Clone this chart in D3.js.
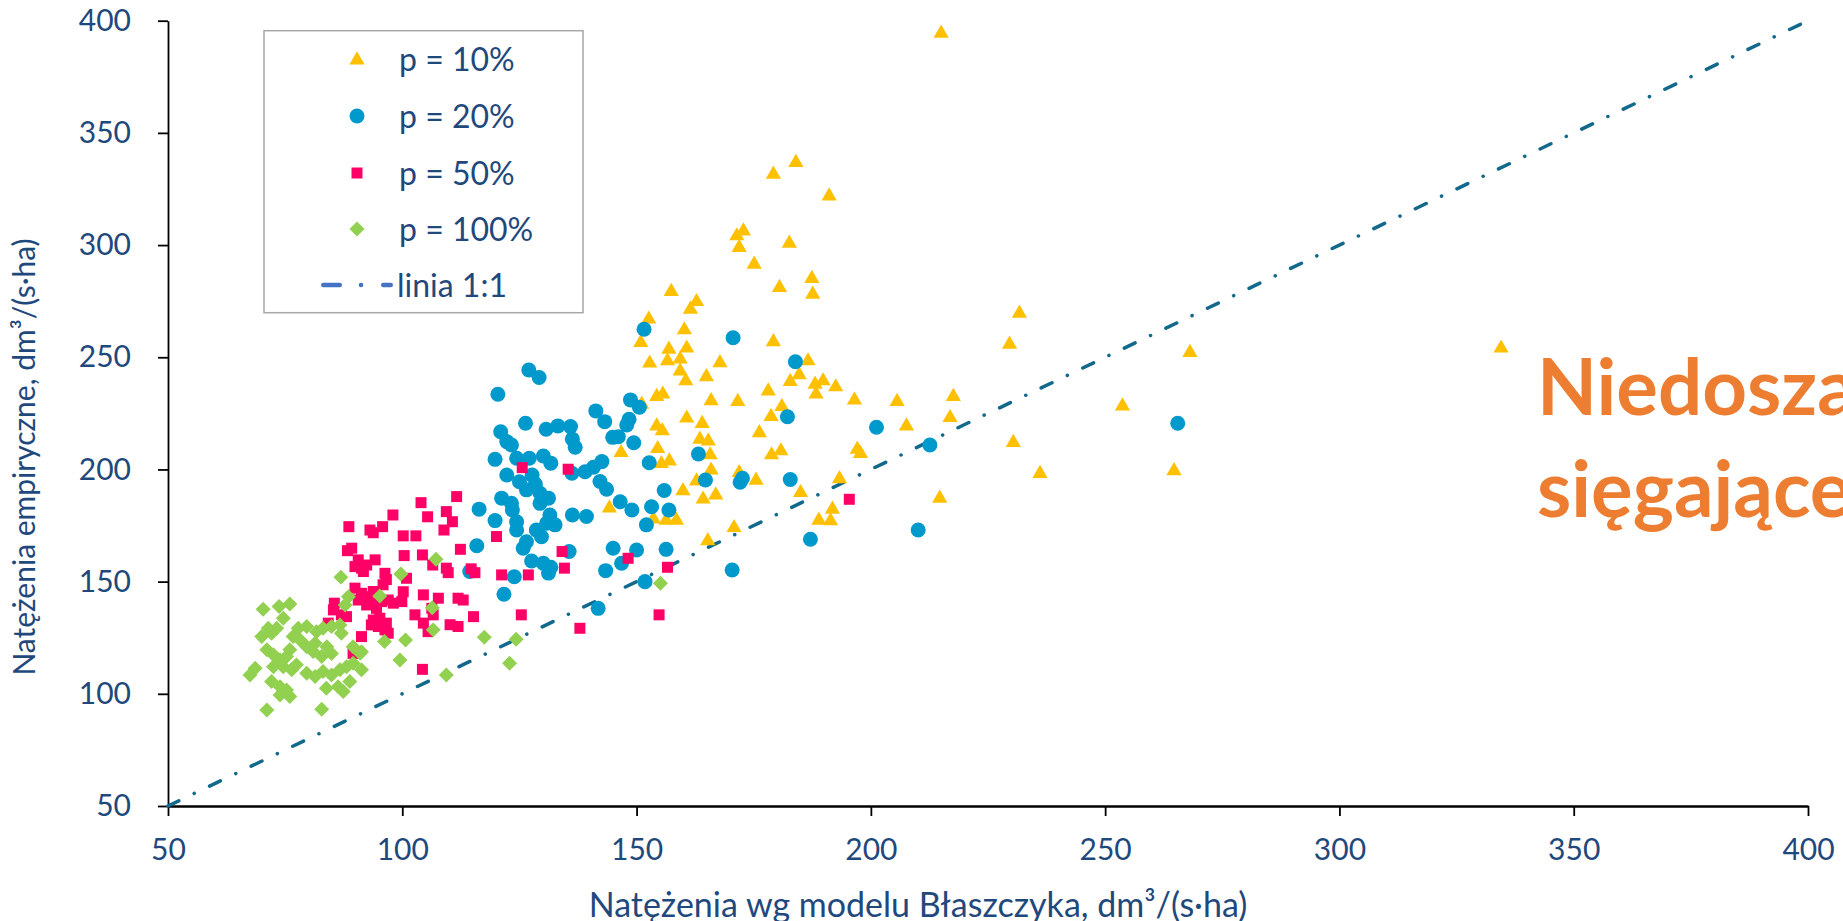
<!DOCTYPE html>
<html>
<head>
<meta charset="utf-8">
<script src="https://cdn.jsdelivr.net/npm/d3@7/dist/d3.min.js"></script>
<style>
  body { margin: 0; background: #fff; overflow: hidden; }
  svg { display: block; font-family: Lato, "Open Sans", sans-serif; }
</style>
</head>
<body>
<div id="chart"></div>
<script>
// osie
const xTicks = [50, 100, 150, 200, 250, 300, 350, 400];
const yTicks = [50, 100, 150, 200, 250, 300, 350, 400];
const xTitle = 'Natężenia wg modelu Błaszczyka, dm³/(s·ha)';
const yTitle = 'Natężenia empiryczne, dm³/(s·ha)';
const seriesNames = ['p = 10%', 'p = 20%', 'p = 50%', 'p = 100%'];
const lineName = 'linia 1:1';
const lineEnds = [50, 400];
const noteLines = ['Niedoszacowania', 'sięgające'];

// [model, empiryczne]
const p10 = [
  [215.0, 394.8], [184.0, 337.2], [179.2, 332.0], [191.1, 322.3], [171.4, 304.5], [172.8, 306.7],
  [171.9, 299.3], [182.6, 301.2], [175.1, 291.9], [187.4, 285.5], [187.6, 278.5], [180.5, 281.5],
  [157.4, 279.7], [162.8, 275.2], [161.5, 271.8], [152.6, 267.4], [160.2, 262.6], [150.9, 257.0],
  [179.2, 257.3], [231.7, 270.0], [229.6, 256.2], [156.9, 254.0], [160.7, 254.5], [159.3, 249.6],
  [156.6, 248.8], [152.8, 247.8], [167.8, 248.0], [186.6, 248.8], [159.3, 244.3], [160.5, 239.9],
  [164.9, 241.7], [184.7, 242.6], [182.8, 239.6], [188.1, 238.4], [189.8, 239.9], [192.5, 237.2],
  [188.3, 234.0], [154.3, 232.9], [155.6, 234.0], [151.1, 229.5], [165.9, 231.0], [171.6, 230.7],
  [178.1, 235.4], [196.5, 231.4], [205.6, 230.7], [217.6, 232.9], [181.0, 228.4], [178.7, 224.0],
  [216.9, 223.5], [160.7, 223.3], [164.0, 220.9], [154.3, 219.8], [155.5, 217.6], [207.6, 219.8],
  [176.2, 216.8], [163.5, 213.9], [165.3, 213.1], [154.5, 209.7], [146.7, 207.9], [230.4, 212.4],
  [197.1, 209.4], [197.8, 207.5], [165.7, 206.9], [178.8, 206.9], [180.8, 208.7], [155.3, 203.0],
  [157.0, 204.2], [165.9, 200.1], [171.9, 199.0], [175.5, 195.6], [162.8, 195.3], [236.1, 198.6],
  [193.3, 196.3], [159.9, 190.9], [166.9, 189.0], [164.2, 187.2], [185.0, 190.1], [214.7, 187.6],
  [144.2, 183.2], [191.8, 182.7], [188.9, 177.8], [191.4, 177.5], [158.5, 177.8], [156.3, 177.8],
  [153.6, 178.3], [170.8, 174.5], [165.2, 168.6], [268.1, 252.5], [253.7, 228.7], [264.7, 199.8],
  [334.5, 254.5]
];

const p20 = [
  [151.6, 262.5], [170.6, 258.7], [183.9, 248.0], [148.7, 231.0], [150.6, 227.7], [143.2, 221.3],
  [148.4, 222.4], [147.9, 219.8], [144.9, 214.3], [146.1, 214.6], [149.4, 211.9], [182.2, 223.5],
  [201.2, 218.8], [212.6, 210.9], [163.2, 206.9], [152.7, 203.0], [142.6, 203.5], [164.7, 195.3],
  [172.6, 196.1], [172.1, 194.3], [182.8, 195.5], [155.9, 190.6], [143.6, 191.2], [146.5, 185.6],
  [149.0, 181.9], [153.2, 183.4], [156.9, 181.9], [152.1, 175.3], [210.1, 173.0], [127.0, 244.3],
  [129.2, 241.0], [120.4, 233.5], [141.3, 226.1], [126.3, 220.6], [130.7, 217.9], [133.2, 219.4],
  [135.9, 219.1], [136.3, 213.5], [136.9, 209.9], [121.0, 216.8], [122.3, 212.4], [123.3, 210.9],
  [119.8, 204.5], [124.4, 205.0], [127.1, 205.0], [130.1, 206.0], [131.7, 202.8], [122.3, 197.5],
  [125.0, 194.5], [127.7, 197.5], [126.5, 190.9], [128.4, 193.5], [129.4, 189.4], [121.2, 187.2],
  [123.3, 184.9], [123.5, 181.9], [129.4, 184.9], [131.2, 187.2], [116.4, 182.3], [119.8, 177.2],
  [124.4, 176.7], [124.4, 173.0], [128.6, 173.0], [129.7, 170.0], [130.8, 176.0], [131.5, 179.7],
  [132.6, 175.3], [136.3, 179.7], [139.3, 179.0], [126.5, 167.8], [125.8, 164.9], [115.9, 166.0],
  [127.6, 159.2], [130.1, 158.2], [131.7, 156.4], [131.2, 153.8], [114.4, 154.5], [123.9, 152.2],
  [121.7, 144.4], [135.6, 163.4], [136.2, 198.3], [139.0, 199.0], [140.8, 201.0], [142.2, 194.6],
  [145.0, 164.9], [150.0, 164.1], [156.3, 164.4], [146.8, 158.2], [143.4, 154.9], [151.8, 150.0],
  [141.8, 138.1], [170.4, 155.2], [187.1, 168.9], [265.5, 220.6]
];

const p50 = [
  [125.6, 200.8], [135.4, 200.1], [111.6, 187.9], [104.0, 185.2], [98.0, 179.7], [105.4, 178.9],
  [109.4, 181.2], [110.7, 176.7], [108.9, 173.0], [88.6, 174.5], [93.1, 173.0], [93.8, 171.8],
  [95.8, 174.5], [100.2, 170.4], [102.9, 170.4], [120.1, 170.1], [112.4, 164.4], [88.3, 163.8],
  [89.2, 164.9], [100.4, 161.6], [104.3, 161.9], [134.1, 163.4], [90.6, 159.7], [92.4, 157.4],
  [91.3, 156.0], [94.2, 159.7], [89.9, 156.7], [106.5, 157.4], [109.4, 156.0], [109.8, 154.0],
  [114.7, 155.7], [115.5, 154.0], [134.6, 156.0], [121.2, 153.0], [126.9, 153.0], [96.3, 153.7],
  [100.9, 151.5], [95.9, 148.6], [96.6, 150.9], [100.2, 145.5], [91.7, 154.5], [85.5, 140.4],
  [85.3, 137.4], [87.0, 135.2], [88.1, 134.4], [89.9, 147.1], [91.3, 144.8], [92.7, 143.3],
  [93.8, 145.6], [90.6, 141.8], [92.4, 139.6], [93.8, 140.4], [94.5, 138.1], [95.6, 141.1],
  [97.0, 141.8], [98.1, 140.4], [99.9, 141.1], [93.8, 132.9], [95.2, 133.7], [96.6, 131.5],
  [96.3, 128.5], [94.9, 130.0], [93.4, 130.7], [97.0, 127.0], [91.3, 125.5], [89.5, 118.0],
  [84.2, 131.5], [104.5, 144.1], [107.7, 142.6], [106.3, 138.1], [106.6, 135.2], [111.9, 142.6],
  [113.0, 141.8], [102.7, 135.2], [104.5, 131.5], [110.2, 130.8], [111.9, 130.0], [105.5, 127.7],
  [115.2, 134.4], [125.4, 135.2], [104.3, 110.9], [195.4, 186.7], [154.8, 135.2], [137.9, 129.2],
  [148.2, 160.4], [156.6, 156.4]
];

const p100 = [
  [107.2, 160.0], [86.9, 152.0], [99.7, 153.4], [88.5, 143.3], [87.8, 139.6], [95.2, 143.6],
  [106.4, 138.4], [106.6, 128.5], [70.3, 137.7], [73.7, 138.9], [76.0, 140.0], [74.6, 133.7],
  [73.2, 129.2], [71.4, 129.2], [70.0, 125.5], [72.1, 127.0], [77.8, 129.2], [79.6, 130.0],
  [81.7, 127.7], [83.1, 129.2], [84.9, 130.0], [86.7, 130.7], [87.0, 127.0], [89.5, 121.0],
  [91.3, 118.8], [76.7, 125.5], [78.2, 124.0], [76.0, 119.6], [79.6, 121.0], [81.4, 122.5],
  [83.9, 121.0], [84.9, 118.0], [82.8, 116.6], [81.0, 118.8], [67.5, 108.4], [68.6, 111.4],
  [71.1, 119.6], [72.5, 117.4], [73.9, 115.2], [75.3, 116.6], [72.5, 112.1], [74.6, 112.1],
  [76.4, 110.7], [77.4, 112.9], [72.1, 105.5], [73.9, 103.2], [75.3, 101.7], [76.0, 98.8],
  [73.9, 99.5], [79.6, 109.2], [81.4, 107.7], [83.1, 109.9], [84.9, 108.4], [86.7, 110.7],
  [88.1, 112.1], [83.8, 102.5], [86.3, 103.2], [87.4, 101.0], [88.8, 105.5], [91.3, 110.7],
  [89.5, 113.6], [91.0, 118.1], [71.1, 92.8], [82.8, 93.1], [96.2, 123.3], [99.5, 115.1],
  [100.7, 124.0], [109.4, 108.4], [117.5, 125.2], [122.9, 113.6], [124.3, 124.3], [155.1, 149.3]
];

const W = 1843, H = 921;
const textColor = '#1F497D';

const svg = d3.select('#chart').append('svg')
  .attr('width', W)
  .attr('height', H);

const x = d3.scaleLinear().domain([50, 400]).range([168, 1808]);
const y = d3.scaleLinear().domain([50, 400]).range([806, 20.7]);

// osie
const gx = svg.append('g')
  .attr('transform', `translate(0, ${y(50)})`)
  .call(d3.axisBottom(x).tickValues(xTicks).tickSize(10).tickSizeOuter(0).tickPadding(23));
gx.select('.domain').attr('stroke', '#000').attr('stroke-width', 2.5);
gx.selectAll('.tick line').attr('stroke', '#000').attr('stroke-width', 1.8);
gx.selectAll('.tick text').attr('fill', textColor).style('font-size', '30px').style('font-family', 'Lato');

const gy = svg.append('g')
  .attr('transform', `translate(${x(50)}, 0)`)
  .call(d3.axisLeft(y).tickValues(yTicks).tickSize(10).tickSizeOuter(0).tickPadding(27));
gy.select('.domain').attr('stroke', '#000').attr('stroke-width', 1.8);
gy.selectAll('.tick line').attr('stroke', '#000').attr('stroke-width', 1.8);
gy.selectAll('.tick text').attr('fill', textColor).style('font-size', '30px').style('font-family', 'Lato');

svg.append('text')
  .attr('x', 918)
  .attr('y', 917)
  .attr('text-anchor', 'middle')
  .attr('fill', textColor)
  .style('font-size', '34px')
  .text(xTitle);

svg.append('text')
  .attr('transform', 'translate(35, 457) rotate(-90)')
  .attr('text-anchor', 'middle')
  .attr('fill', textColor)
  .style('font-size', '30px')
  .text(yTitle);

// linia 1:1
svg.append('line')
  .attr('x1', x(lineEnds[0])).attr('y1', y(lineEnds[0]))
  .attr('x2', x(lineEnds[1])).attr('y2', y(lineEnds[1]))
  .attr('stroke', '#12698C')
  .attr('stroke-width', 3.5)
  .attr('stroke-linecap', 'round')
  .attr('stroke-dasharray', '12 17 0.1 17');

// serie
const triangle = d3.symbol().type(d3.symbolTriangle).size(100);
const circle = d3.symbol().type(d3.symbolCircle).size(177);
const square = d3.symbol().type(d3.symbolSquare).size(121);
const diamond = d3.symbol().type(d3.symbolSquare).size(112);

const series = [
  { data: p10, color: '#FFC000', sym: triangle, rot: 0, dy: 1 },
  { data: p20, color: '#0099CC', sym: circle, rot: 0, dy: 0 },
  { data: p50, color: '#FF0066', sym: square, rot: 0, dy: 0 },
  { data: p100, color: '#92D050', sym: diamond, rot: 45, dy: 0 }
];

series.forEach(s => {
  svg.append('g').selectAll('path')
    .data(s.data)
    .enter().append('path')
    .attr('d', s.sym())
    .attr('transform', d => `translate(${x(d[0])}, ${y(d[1]) + s.dy}) rotate(${s.rot})`)
    .attr('fill', s.color);
});

// legenda
const legend = svg.append('g');
legend.append('rect')
  .attr('x', 264).attr('y', 30.7)
  .attr('width', 319).attr('height', 282)
  .attr('fill', '#fff')
  .attr('stroke', '#A6A6A6')
  .attr('stroke-width', 1.5);

const rowY = [59, 116, 173, 229, 285];
series.forEach((s, i) => {
  legend.append('path')
    .attr('d', s.sym())
    .attr('transform', `translate(357, ${rowY[i] + s.dy}) rotate(${s.rot})`)
    .attr('fill', s.color);
  legend.append('text')
    .attr('x', 399).attr('y', rowY[i] + 12)
    .attr('fill', textColor)
    .style('font-size', '32px')
    .text(seriesNames[i]);
});

legend.append('line')
  .attr('x1', 323.25).attr('x2', 390.75)
  .attr('y1', rowY[4]).attr('y2', rowY[4])
  .attr('stroke', '#4472C4')
  .attr('stroke-width', 4.5)
  .attr('stroke-linecap', 'round')
  .attr('stroke-dasharray', '16.5 21.25 0.1 22.15 7.5');
legend.append('text')
  .attr('x', 397).attr('y', rowY[4] + 12)
  .attr('fill', textColor)
  .style('font-size', '32px')
  .text(lineName);

// napis (ucięty przy prawej krawędzi, jak w oryginale)
svg.append('g').selectAll('text')
  .data(noteLines)
  .enter().append('text')
  .attr('x', 1537)
  .attr('y', (d, i) => 415 + i * 102)
  .attr('fill', '#ED7D31')
  .style('font-size', '78px')
  .style('font-weight', 'bold')
  .text(d => d);
</script>
</body>
</html>
